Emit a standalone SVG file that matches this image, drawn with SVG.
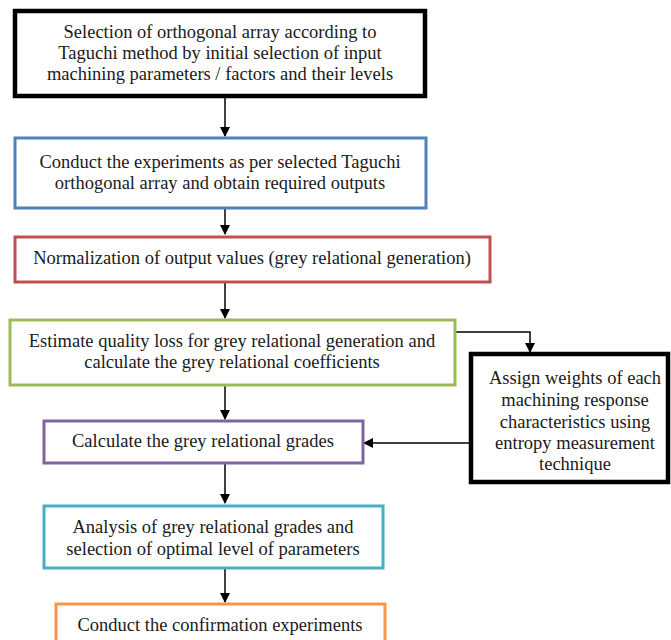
<svg xmlns="http://www.w3.org/2000/svg" width="671" height="640" viewBox="0 0 671 640">
<style>
  .box { fill: #ffffff; }
  .t { font-family: "Liberation Serif", "DejaVu Serif", serif; font-size: 18.5px; fill: #1a1a1a; text-anchor: middle; }
  .c { stroke: #000; stroke-width: 1.5; fill: none; }
</style>
<defs>
  <marker id="ah" markerWidth="10" markerHeight="10" refX="9" refY="5" orient="auto" markerUnits="userSpaceOnUse">
    <path d="M0,0 L10,5 L0,10 z" fill="#000"/>
  </marker>
</defs>
<rect width="671" height="640" fill="#fff"/>
<g id="connectors">
  <line class="c" x1="225" y1="98" x2="225" y2="136" marker-end="url(#ah)"/>
  <line class="c" x1="225" y1="209" x2="225" y2="234" marker-end="url(#ah)"/>
  <line class="c" x1="225" y1="283" x2="225" y2="318" marker-end="url(#ah)"/>
  <line class="c" x1="225" y1="386" x2="225" y2="419" marker-end="url(#ah)"/>
  <line class="c" x1="225" y1="464" x2="225" y2="503" marker-end="url(#ah)"/>
  <line class="c" x1="225" y1="569" x2="225" y2="602" marker-end="url(#ah)"/>
  <polyline class="c" points="455,332 530,332 530,352" marker-end="url(#ah)"/>
  <line class="c" x1="470" y1="443" x2="364" y2="443" marker-end="url(#ah)"/>
</g>
<g id="n1">
  <rect class="box" x="15" y="11" width="410" height="85" stroke="#000" stroke-width="4.5"/>
  <text class="t" x="220" y="38">Selection of orthogonal array according to</text>
  <text class="t" x="220" y="59">Taguchi method by initial selection of input</text>
  <text class="t" x="220" y="80">machining parameters / factors and their levels</text>
</g>
<g id="n2">
  <rect class="box" x="15" y="138" width="411" height="70" stroke="#4f81bd" stroke-width="3"/>
  <text class="t" x="220" y="168">Conduct the experiments as per selected Taguchi</text>
  <text class="t" x="220" y="189">orthogonal array and obtain required outputs</text>
</g>
<g id="n3">
  <rect class="box" x="15" y="237" width="475" height="45" stroke="#c0504d" stroke-width="3"/>
  <text class="t" x="252" y="264">Normalization of output values (grey relational generation)</text>
</g>
<g id="n4">
  <rect class="box" x="10" y="320" width="445" height="65" stroke="#9bbb59" stroke-width="3"/>
  <text class="t" x="232" y="347">Estimate quality loss for grey relational generation and</text>
  <text class="t" x="232" y="368">calculate the grey relational coefficients</text>
</g>
<g id="n5">
  <rect class="box" x="471" y="354" width="197" height="128" stroke="#000" stroke-width="4.5"/>
  <text class="t" x="575" y="384">Assign weights of each</text>
  <text class="t" x="575" y="406">machining response</text>
  <text class="t" x="575" y="428">characteristics using</text>
  <text class="t" x="575" y="449">entropy measurement</text>
  <text class="t" x="575" y="470">technique</text>
</g>
<g id="n6">
  <rect class="box" x="44" y="421" width="319" height="42" stroke="#8064a2" stroke-width="3"/>
  <text class="t" x="203" y="447">Calculate the grey relational grades</text>
</g>
<g id="n7">
  <rect class="box" x="44" y="506" width="339" height="62" stroke="#4bacc6" stroke-width="3"/>
  <text class="t" x="213" y="533">Analysis of grey relational grades and</text>
  <text class="t" x="213" y="555">selection of optimal level of parameters</text>
</g>
<g id="n8">
  <rect class="box" x="56" y="604" width="329" height="50" stroke="#f79646" stroke-width="3"/>
  <text class="t" x="220" y="631">Conduct the confirmation experiments</text>
</g>
</svg>
